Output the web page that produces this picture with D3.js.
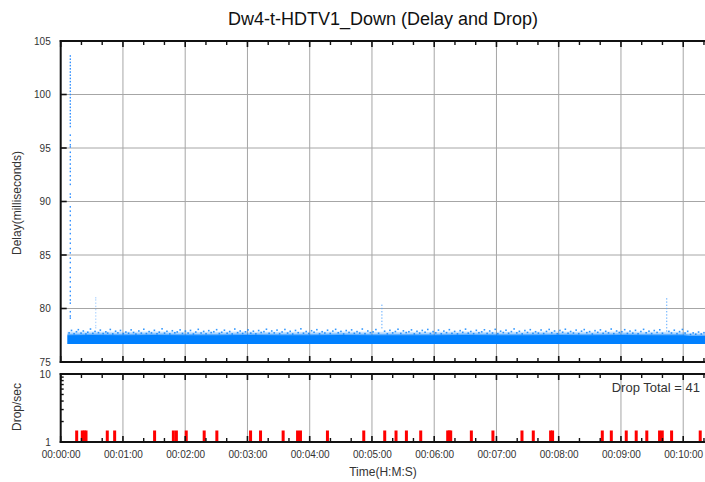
<!DOCTYPE html>
<html>
<head>
<meta charset="utf-8">
<script src="https://cdn.jsdelivr.net/npm/d3@7"></script>
<style>
  body { margin: 0; background: #fff; }
  svg { display: block; font-family: "Liberation Sans", Arial, sans-serif; }
</style>
</head>
<body>
<svg id="chart" width="705" height="482"></svg>
<script>
// ---- data -------------------------------------------------------------
const chartTitle = "Dw4-t-HDTV1_Down (Delay and Drop)";
const delayTicks = [75, 80, 85, 90, 95, 100, 105];
const dropTicks = [1, 10];
const timeTicks = [0, 60, 120, 180, 240, 300, 360, 420, 480, 540, 600];

// dense per-packet delay band (seconds, milliseconds)
const bandTimes = [6.5, 30, 60, 90, 120, 150, 180, 210, 240, 270, 300, 330, 360, 390, 420, 450, 480, 510, 540, 570, 600, 606, 621];
const bandLow   = [76.68, 76.68, 76.68, 76.68, 76.68, 76.68, 76.68, 76.68, 76.68, 76.68, 76.68, 76.68, 76.68, 76.68, 76.68, 76.68, 76.68, 76.68, 76.68, 76.68, 76.68, 76.68, 76.68];
const bandHigh  = [77.50, 77.52, 77.50, 77.53, 77.51, 77.50, 77.52, 77.50, 77.51, 77.53, 77.50, 77.51, 77.50, 77.52, 77.50, 77.51, 77.53, 77.50, 77.52, 77.51, 77.50, 77.42, 77.42];

// scattered packets above the band [time, delay]
const scatterPoints = [
  [8.1,77.72],[10.4,77.95],[12.9,77.64],[15.2,77.83],[17.0,78.02],[19.6,77.7],[21.8,77.9],[24.3,77.62],
  [26.1,77.78],[28.7,78.08],[31.0,77.68],[33.1,77.86],[36.4,77.74],[38.2,77.98],[40.9,77.66],[43.5,77.82],
  [45.3,77.7],[47.8,78.04],[50.2,77.63],[52.9,77.88],[55.1,77.72],[57.6,77.95],[60.3,77.65],[62.8,77.8],
  [65.4,77.69],[67.9,78.0],[70.2,77.76],[72.5,77.61],[75.3,77.9],[77.7,77.7],[80.1,78.06],[82.6,77.66],
  [85.2,77.84],[87.5,77.72],[90.3,77.96],[92.8,77.64],[95.0,77.79],[97.7,78.1],[100.1,77.7],[102.4,77.87],
  [105.2,77.63],[107.6,77.92],[110.0,77.73],[112.3,77.81],[115.1,78.0],[117.4,77.67],[120.2,77.89],[122.8,77.7],
  [125.1,77.95],[127.9,77.62],[130.2,77.8],[132.6,78.05],[135.3,77.71],[137.8,77.86],[140.1,77.64],[142.7,77.93],
  [145.0,77.75],[147.6,77.83],[150.3,78.02],[152.9,77.66],[155.2,77.78],[157.8,77.97],[160.4,77.69],[162.9,77.85],
  [165.3,77.62],[167.8,78.08],[170.5,77.74],[173.0,77.9],[175.4,77.67],[178.1,77.82],[180.6,78.0],[183.2,77.7],
  [185.7,77.88],[188.1,77.63],[190.8,77.94],[193.2,77.76],[195.9,77.84],[198.3,78.06],[200.9,77.68],[203.4,77.9],
  [205.8,77.72],[208.5,77.98],[211.0,77.65],[213.4,77.81],[216.1,78.04],[218.7,77.7],[221.2,77.87],[223.6,77.62],
  [226.3,77.95],[228.9,77.74],[231.5,78.1],[234.0,77.69],[236.6,77.85],[239.1,77.66],[241.8,77.92],[244.2,77.78],
  [246.9,78.02],[249.5,77.64],[252.0,77.83],[254.6,77.71],[257.2,77.97],[259.8,77.67],[262.3,77.89],[265.0,78.05],
  [267.5,77.73],[270.1,77.86],[272.7,77.62],[275.2,77.94],[277.9,77.76],[280.4,78.0],[283.0,77.68],[285.6,77.84],
  [288.2,77.7],[290.7,78.08],[293.3,77.65],[296.0,77.9],[298.5,77.74],[301.1,77.82],[303.8,78.03],[306.4,77.69],
  [312.2,77.88],[314.8,77.64],[317.3,77.96],[320.0,77.72],[322.6,77.85],[325.1,78.06],[327.8,77.67],[330.3,77.91],
  [333.0,77.75],[335.6,77.83],[338.1,78.0],[340.8,77.63],[343.4,77.87],[346.0,77.7],[348.5,77.95],[351.2,77.78],
  [353.8,78.04],[356.3,77.66],[358.9,77.84],[361.5,77.72],[364.1,77.98],[366.8,77.64],[369.3,77.89],[371.9,77.74],
  [374.6,78.02],[377.1,77.68],[379.7,77.86],[382.4,77.63],[385.0,77.93],[387.5,77.77],[390.2,78.07],[392.8,77.7],
  [395.3,77.85],[398.0,77.65],[400.6,77.96],[403.1,77.73],[405.8,77.82],[408.4,78.01],[411.0,77.67],[413.5,77.9],
  [416.2,77.71],[418.8,78.05],[421.3,77.64],[424.0,77.88],[426.6,77.75],[429.2,77.97],[431.7,77.69],[434.4,77.84],
  [437.0,78.09],[439.6,77.72],[442.1,77.87],[444.8,77.63],[447.4,77.94],[449.9,77.76],[452.6,78.02],[455.2,77.68],
  [457.7,77.83],[460.4,77.7],[463.0,77.99],[465.5,77.66],[468.2,77.86],[470.8,78.04],[473.3,77.73],[476.0,77.9],
  [478.6,77.64],[481.2,77.95],[483.8,77.78],[486.4,78.06],[489.0,77.69],[491.5,77.85],[494.2,77.71],[496.8,77.98],
  [499.3,77.65],[502.0,77.88],[504.6,78.03],[507.1,77.74],[509.8,77.84],[512.4,77.62],[515.0,77.93],[517.6,77.77],
  [520.2,78.0],[522.8,77.68],[525.3,77.87],[528.0,77.72],[530.6,78.08],[533.1,77.65],[535.8,77.9],[538.4,77.75],
  [540.9,77.83],[543.6,78.02],[546.2,77.67],[548.7,77.89],[551.4,77.7],[554.0,77.96],[556.5,77.64],[559.2,77.85],
  [561.8,78.05],[564.3,77.73],[567.0,77.88],[569.6,77.66],[572.1,77.94],[574.8,77.76],[577.4,78.01],[580.0,77.69],
  [586.2,77.86],[588.7,77.71],[591.4,77.97],[594.0,77.65],[596.5,77.84],[599.2,78.04],[601.8,77.7],[604.3,77.87],
  [607.0,77.58],[609.6,77.72],[612.1,77.6],[614.8,77.8],[617.4,77.62],[620.0,77.74]
];

// delay bursts: one time each, many packets at rising delay
const burstStartTime = 9.2;
const burstStartDelays = [103.6,103.3,103.0,102.7,102.4,102.1,101.8,101.5,101.2,100.9,100.6,100.3,100.0,99.7,99.4,99.1,98.8,98.5,
  98.2,97.9,97.6,97.3,97.0,96.2,95.7,95.3,95.1,94.6,94.2,93.9,93.5,93.1,92.8,92.4,92.0,91.6,90.7,90.4,89.5,89.1,88.7,88.2,87.8,
  87.4,87.0,86.5,86.1,85.6,85.2,84.7,84.3,83.8,83.4,82.9,82.5,82.0,81.6,81.2,80.8,80.5,79.7,79.3,79.1];
const burstSmallTimes = [33.7, 309.5, 584.0];
const burstSmallDelays = [
  [81.0,80.8,80.5,80.2,79.9,79.6,79.3,79.0,78.7,78.4,78.2],
  [80.3,80.0,79.7,79.4,79.1,78.8,78.5,78.2],
  [80.9,80.6,80.3,80.0,79.7,79.4,79.1,78.8,78.5,78.2,77.9]
];

// packet drops: time (s) and drops in that second
const dropTimes = [15.4,20.8,22.7,24.4,44.9,52.0,90.5,108.6,111.5,121.0,138.3,150.5,183.0,192.6,214.4,228.3,231.1,
  257.1,292.1,312.3,323.2,333.2,347.0,373.0,374.5,375.9,395.8,416.6,444.6,455.5,472.2,474.1,522.0,530.7,545.1,554.7,
  564.9,577.2,579.8,588.8,616.4];
const dropCounts = dropTimes.map(() => 1);

// ---- layout ------------------------------------------------------------
const svg = d3.select("#chart");
const X0 = 60.7, X1 = 705;
const topY0 = 41, topY1 = 362;
const botY0 = 374, botY1 = 442;

const x = d3.scaleLinear().domain([0, 621]).range([X0, X1]);
const yDelay = d3.scaleLinear().domain([75, 105]).range([topY1, topY0]);
const yDrop = d3.scaleLog().domain([1, 10]).range([botY1, botY0]);

const fmtTime = s => {
  const h = Math.floor(s / 3600), m = Math.floor((s % 3600) / 60), sec = Math.round(s % 60);
  return [h, m, sec].map(v => String(v).padStart(2, "0")).join(":");
};
const minorTimes = d3.range(0, 621, 20).filter(t => t % 60 !== 0);

// title
svg.append("text").attr("x", 383).attr("y", 25).attr("text-anchor", "middle")
  .attr("font-size", 18).attr("fill", "#111").text(chartTitle);

// clip for data area
svg.append("clipPath").attr("id", "clipTop").append("rect")
  .attr("x", X0).attr("y", topY0).attr("width", X1 - X0).attr("height", topY1 - topY0);

// ---- grid --------------------------------------------------------------
const grid = svg.append("g").attr("stroke", "#a6a6a6").attr("stroke-width", 1);
grid.selectAll(".vt").data(timeTicks.filter(t => t > 0)).join("line")
  .attr("x1", d => x(d)).attr("x2", d => x(d)).attr("y1", topY0).attr("y2", topY1);
grid.selectAll(".vb").data(timeTicks.filter(t => t > 0)).join("line")
  .attr("class", "vb")
  .attr("x1", d => x(d)).attr("x2", d => x(d)).attr("y1", botY0).attr("y2", botY1);
grid.selectAll(".h").data(delayTicks.filter(v => v > 75 && v < 105)).join("line")
  .attr("class", "h")
  .attr("x1", X0).attr("x2", X1).attr("y1", d => yDelay(d)).attr("y2", d => yDelay(d));

// ---- delay data ----------------------------------------------------------
const dataG = svg.append("g").attr("clip-path", "url(#clipTop)");
const bandData = bandTimes.map((t, i) => ({ t, lo: bandLow[i], hi: bandHigh[i] }));

// lighter fringes of packets just above the solid band
dataG.append("path").datum(bandData)
  .attr("fill", "#0080ff").attr("opacity", 0.22)
  .attr("d", d3.area().x(d => x(d.t)).y0(d => yDelay(d.lo)).y1(d => yDelay(d.hi + 0.32)));
dataG.append("path").datum(bandData)
  .attr("fill", "#0080ff").attr("opacity", 0.5)
  .attr("d", d3.area().x(d => x(d.t)).y0(d => yDelay(d.lo)).y1(d => yDelay(d.hi + 0.14)));
dataG.append("path").datum(bandData)
  .attr("fill", "#0080ff")
  .attr("d", d3.area().x(d => x(d.t)).y0(d => yDelay(d.lo)).y1(d => yDelay(d.hi)));

dataG.selectAll(".sc").data(scatterPoints).join("rect")
  .attr("class", "sc")
  .attr("x", d => x(d[0]) - 0.8).attr("y", d => yDelay(d[1]) - 0.8)
  .attr("width", 1.6).attr("height", 1.6)
  .attr("fill", "#0080ff").attr("opacity", 0.8);

dataG.selectAll(".bs").data(burstStartDelays).join("rect")
  .attr("class", "bs")
  .attr("x", x(burstStartTime) - 0.6).attr("y", d => yDelay(d) - 0.8)
  .attr("width", 1.3).attr("height", 1.6)
  .attr("fill", "#2a8cff");

burstSmallTimes.forEach((t, i) => {
  dataG.selectAll(".bsm" + i).data(burstSmallDelays[i]).join("rect")
    .attr("class", "bsm" + i)
    .attr("x", x(t) - 0.6).attr("y", d => yDelay(d) - 0.7)
    .attr("width", 1.3).attr("height", 1.4)
    .attr("fill", "#5aa8ff").attr("opacity", i === 0 ? 0.45 : 0.75);
});

// ---- drop bars -----------------------------------------------------------
const drops = dropTimes.map((t, i) => ({ t, n: dropCounts[i] }));
const barFloor = 11.5; // minimum visible impulse height in px
svg.append("g").selectAll("rect").data(drops).join("rect")
  .attr("x", d => x(d.t) - 1.5).attr("width", 3)
  .attr("y", d => Math.min(yDrop(d.n), botY1) - barFloor)
  .attr("height", d => botY1 - Math.min(yDrop(d.n), botY1) + barFloor)
  .attr("fill", "#ff0000");

svg.append("text").attr("x", 700).attr("y", 392).attr("text-anchor", "end")
  .attr("font-size", 13).attr("fill", "#333")
  .text("Drop Total = " + d3.sum(dropCounts));

// ---- frames and ticks -------------------------------------------------------
const frame = svg.append("g").attr("stroke", "#111");
[[topY0, 1], [topY1, -1], [botY0, 1], [botY1, -1]].forEach(([yy, dir]) => {
  frame.append("line").attr("x1", X0 - 1).attr("x2", X1).attr("y1", yy).attr("y2", yy).attr("stroke-width", 2);
  frame.selectAll(null).data(timeTicks).join("line")
    .attr("x1", d => x(d)).attr("x2", d => x(d)).attr("y1", yy).attr("y2", yy + dir * 6).attr("stroke-width", 1.6);
  frame.selectAll(null).data(minorTimes).join("line")
    .attr("x1", d => x(d)).attr("x2", d => x(d)).attr("y1", yy).attr("y2", yy + dir * 4).attr("stroke-width", 1.4);
});
frame.append("line").attr("x1", X0).attr("x2", X0).attr("y1", topY0 - 1).attr("y2", topY1 + 1).attr("stroke-width", 2);
frame.append("line").attr("x1", X0).attr("x2", X0).attr("y1", botY0 - 1).attr("y2", botY1 + 1).attr("stroke-width", 2);
frame.selectAll(null).data(delayTicks).join("line")
  .attr("x1", X0).attr("x2", X0 + 6).attr("y1", d => yDelay(d)).attr("y2", d => yDelay(d)).attr("stroke-width", 1.6);
const dropMinor = d3.range(2, 10);
frame.selectAll(null).data(dropMinor).join("line")
  .attr("x1", X0).attr("x2", X0 + 3).attr("y1", d => yDrop(d)).attr("y2", d => yDrop(d)).attr("stroke-width", 1.4);

// ---- axes labels -----------------------------------------------------------
const styleAxis = g => {
  g.select(".domain").remove();
  g.selectAll("text").attr("font-size", 10).attr("fill", "#333")
    .attr("font-family", '"Liberation Sans", Arial, sans-serif');
};
svg.append("g").attr("transform", `translate(${X0 - 1},0)`)
  .call(d3.axisLeft(yDelay).tickValues(delayTicks).tickSize(0).tickPadding(9))
  .call(styleAxis);
svg.append("g").attr("transform", `translate(${X0 - 1},0)`)
  .call(d3.axisLeft(yDrop).tickValues(dropTicks).tickFormat(d3.format("d")).tickSize(0).tickPadding(9))
  .call(styleAxis);
svg.append("g").attr("transform", `translate(0,${botY1})`)
  .call(d3.axisBottom(x).tickValues(timeTicks).tickFormat(fmtTime).tickSize(0).tickPadding(9.3))
  .call(styleAxis);

svg.append("text").attr("x", 383).attr("y", 476).attr("text-anchor", "middle")
  .attr("font-size", 12).attr("fill", "#333").text("Time(H:M:S)");
svg.append("text").attr("transform", "translate(21,203) rotate(-90)").attr("text-anchor", "middle")
  .attr("font-size", 12).attr("fill", "#333").text("Delay(milliseconds)");
svg.append("text").attr("transform", "translate(21,407) rotate(-90)").attr("text-anchor", "middle")
  .attr("font-size", 12).attr("fill", "#333").text("Drop/sec");
</script>
</body>
</html>
